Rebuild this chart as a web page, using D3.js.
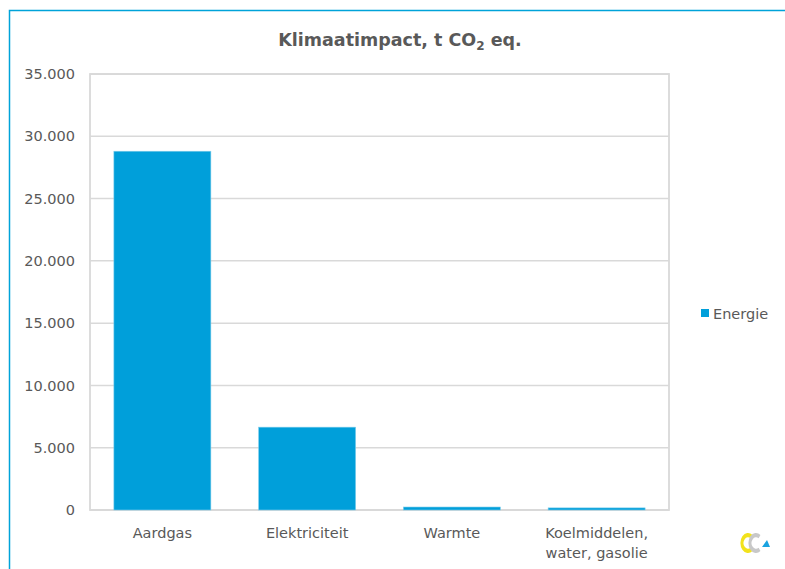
<!DOCTYPE html>
<html>
<head>
<meta charset="utf-8">
<script src="https://cdn.jsdelivr.net/npm/d3@7"></script>
<style>
  html, body { margin: 0; padding: 0; background: #fff; }
  svg { display: block; font-family: "DejaVu Sans", "Noto Sans", sans-serif; }
</style>
</head>
<body>
<svg id="chart" width="785" height="569"></svg>
<script>
// Climate impact per energy source (t CO2 eq.)
const categories = ["Aardgas", "Elektriciteit", "Warmte", "Koelmiddelen,\nwater, gasolie"];
const seriesName = "Energie";
const energieValues = [28800, 6650, 240, 170];
const yTicks = [0, 5000, 10000, 15000, 20000, 25000, 30000, 35000];

const svg = d3.select("#chart");
const W = 785, H = 569;
const plot = { left: 90, top: 74, right: 669, bottom: 510 };
const barColor = "#009FDA";
const textColor = "#595959";
const gridColor = "#D9D9D9";
const fontSize = 14.5;

// outer frame (blue)
svg.append("path")
  .attr("d", `M9.5,${H} V10.5 H${W}`)
  .attr("fill", "none").attr("stroke", "#00A3D9").attr("stroke-width", 1.5);

const x = d3.scaleBand().domain(categories).range([plot.left, plot.right]).paddingInner(0.33).paddingOuter(0.165);
const y = d3.scaleLinear().domain([0, 35000]).range([plot.bottom, plot.top]);
const fmt = v => d3.format(",")(v).replace(/,/g, ".");

// gridlines
svg.append("g")
  .selectAll("line").data(yTicks).join("line")
  .attr("x1", plot.left).attr("x2", plot.right)
  .attr("y1", d => y(d)).attr("y2", d => y(d))
  .attr("stroke", gridColor).attr("stroke-width", 1.5);

// plot area border
svg.append("rect")
  .attr("x", plot.left).attr("y", plot.top)
  .attr("width", plot.right - plot.left).attr("height", plot.bottom - plot.top)
  .attr("fill", "none").attr("stroke", gridColor).attr("stroke-width", 1.8);

// y axis labels
const yAxis = d3.axisLeft(y).tickValues(yTicks).tickFormat(fmt).tickSize(0).tickPadding(15);
const gy = svg.append("g").attr("transform", `translate(${plot.left},0)`).call(yAxis);
gy.select(".domain").remove();
gy.selectAll("text").attr("fill", textColor).attr("font-size", fontSize).style("font-family", "'DejaVu Sans', sans-serif");

// bars
svg.append("g")
  .selectAll("rect").data(energieValues).join("rect")
  .attr("x", (d, i) => x(categories[i]))
  .attr("y", d => y(d))
  .attr("width", x.bandwidth())
  .attr("height", d => y(0) - y(d))
  .attr("fill", barColor)
  .attr("stroke", "#7FCDEB").attr("stroke-width", 0.6);

// x axis labels
const xAxis = d3.axisBottom(x).tickSize(0).tickPadding(0).tickFormat("");
const gx = svg.append("g").attr("transform", `translate(0,${plot.bottom})`).call(xAxis);
gx.select(".domain").remove();
gx.selectAll(".tick").each(function(d) {
  const lines = d.split("\n");
  const t = d3.select(this).append("text")
    .attr("fill", textColor).attr("font-size", fontSize).attr("text-anchor", "middle")
    .style("font-family", "'DejaVu Sans', sans-serif");
  lines.forEach((ln, k) => {
    t.append("tspan").attr("x", 0).attr("y", 28 + k * 20).text(ln);
  });
});

// title
const title = svg.append("text")
  .attr("x", 400).attr("y", 46)
  .attr("text-anchor", "middle")
  .attr("fill", textColor).attr("font-size", 17.5).attr("font-weight", "bold");
title.append("tspan").text("Klimaatimpact, t CO");
title.append("tspan").attr("font-size", 12).attr("dy", 4).text("2");
title.append("tspan").attr("dy", -4).text(" eq.");

// legend
const lg = svg.append("g").attr("transform", "translate(701,309)");
lg.append("rect").attr("width", 8).attr("height", 8).attr("fill", barColor);
lg.append("text").attr("x", 12).attr("y", 9.5)
  .attr("fill", textColor).attr("font-size", fontSize).text(seriesName);

// small logo mark, bottom right: two open rings and a triangle
const logo = svg.append("g").attr("transform", "translate(752,543)");
const arcC = d3.arc().innerRadius(5.5).outerRadius(9.5)
  .startAngle(Math.PI * 0.8).endAngle(Math.PI * 2.2);
logo.append("path").attr("d", arcC()).attr("fill", "#F2E21C").attr("transform", "translate(-4,0) scale(0.8,1.05)");
logo.append("path").attr("d", arcC()).attr("fill", "#C8C8C8").attr("transform", "translate(4,0) scale(0.8,1.05)");
logo.append("path").attr("d", "M10,4 L18,4 L15,-3 Z").attr("fill", "#1AA3E0");
</script>
</body>
</html>
